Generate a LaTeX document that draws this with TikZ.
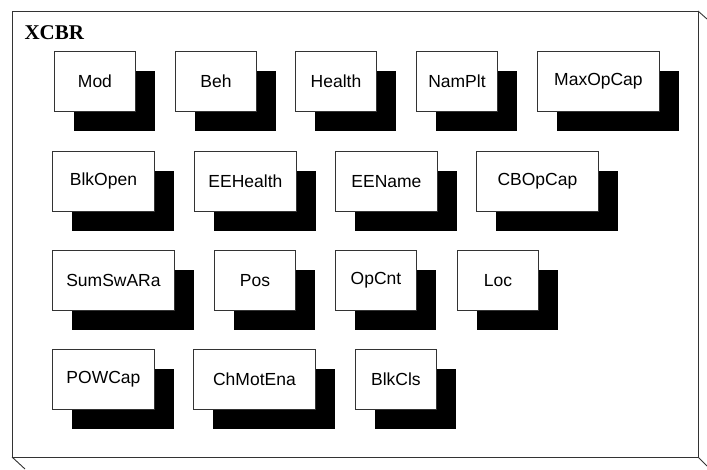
\documentclass[tikz,border=0pt]{standalone}
\usepackage{fontspec}
\setmainfont{Liberation Sans}
\newfontfamily\titlefont{Liberation Serif}
\usetikzlibrary{shadows}
\begin{document}
\begin{tikzpicture}[x=1pt,y=-1pt,
  frameline/.style={draw=black!80,line width=0.9pt},
  dobox/.style={draw=black!80,line width=0.9pt,fill=white,rectangle,
    anchor=north west,inner sep=0pt,minimum height=60pt,
    font=\fontsize{17.5}{20}\selectfont,
    general shadow={fill=black,shadow xshift=20pt,shadow yshift=-20pt}},
  w1/.style={dobox,minimum width=81pt},
  w2/.style={dobox,minimum width=102pt},
  w3/.style={dobox,minimum width=122pt}]
\useasboundingbox (0,0) rectangle (707,469);
% logical node frame
\draw[frameline] (12,11) rectangle (698,457);
\coordinate (tr) at (698,11);
\coordinate (bl) at (12,457);
\coordinate (br) at (698,457);
\draw[frameline] (tr) -- ++(9,8);
\draw[frameline] (bl) -- ++(13,12);
\draw[frameline] (br) -- ++(9,9);
\node[anchor=base west,font=\titlefont\bfseries\fontsize{21}{24}\selectfont] (title) at (21,39) {XCBR};
% data objects, row by row
\node[w1] (mod) at (54,51) {Mod};
\node[w1] (beh) at (175,51) {Beh};
\node[w1] (health) at (295,51) {Health};
\node[w1] (namplt) at (416,51) {NamPlt};
\node[w3] (maxopcap) at (537,51) {MaxOpCap};
\node[w2] (blkopen) at (52,151) {BlkOpen};
\node[w2] (eehealth) at (194,151) {EEHealth};
\node[w2] (eename) at (335,151) {EEName};
\node[w3] (cbopcap) at (476,151) {CBOpCap};
\node[w3] (sumswara) at (52,250) {SumSwARa};
\node[w1] (pos) at (214,250) {Pos};
\node[w1] (opcnt) at (335,250) {OpCnt};
\node[w1] (loc) at (457,250) {Loc};
\node[w2] (powcap) at (52,349) {POWCap};
\node[w3] (chmotena) at (193,349) {ChMotEna};
\node[w1] (blkcls) at (355,349) {BlkCls};
\end{tikzpicture}
\end{document}
